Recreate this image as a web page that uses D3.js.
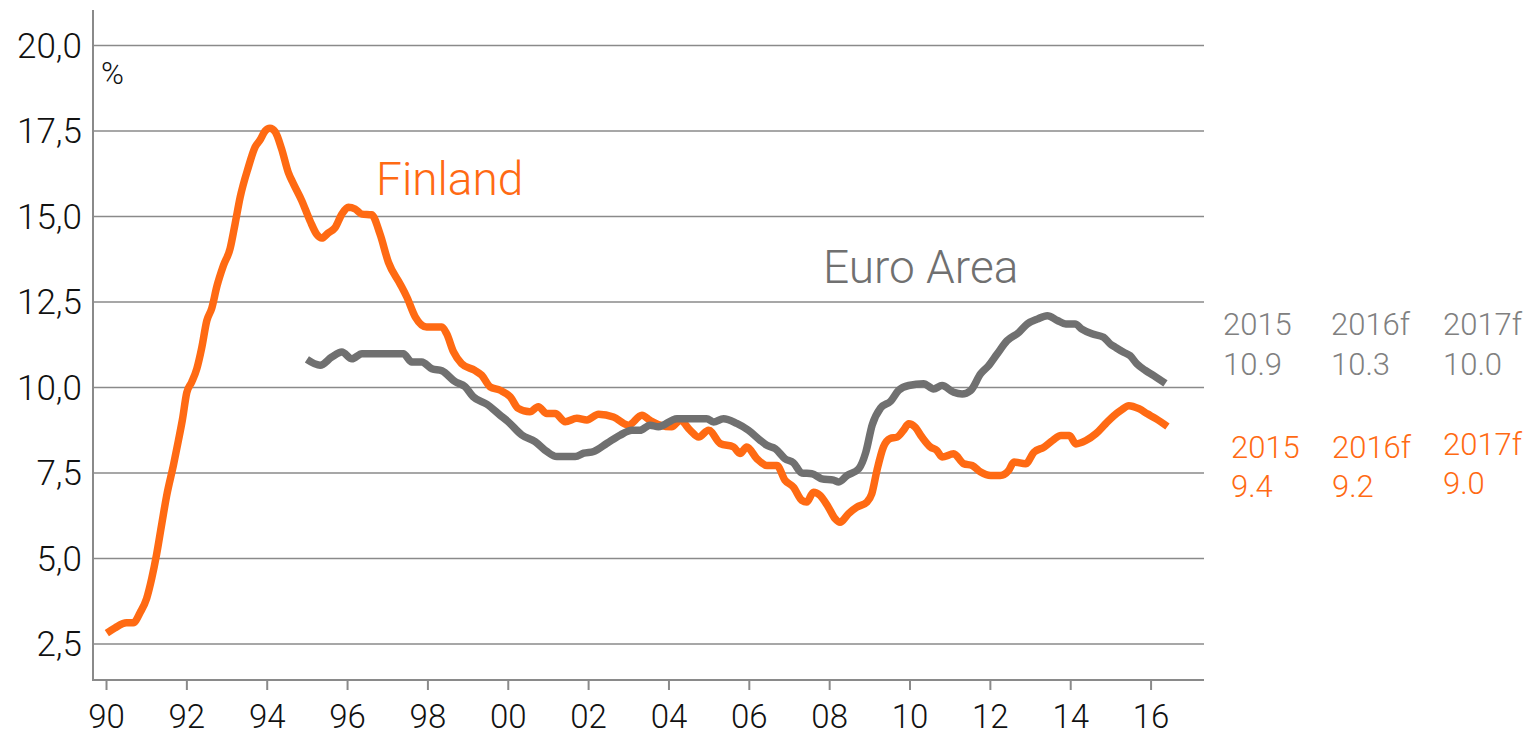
<!DOCTYPE html>
<html>
<head>
<meta charset="utf-8">
<script src="https://cdn.jsdelivr.net/npm/d3@7.9.0/dist/d3.min.js"></script>
<style>
  html, body { margin: 0; padding: 0; background: #fff; }
  svg text { font-family: Roboto, "Liberation Sans", sans-serif; font-weight: 300; }
</style>
</head>
<body>
<div id="chart"></div>
<script>
// unemployment rate, %, trend
const finlandYears = [1990.02,1990.22,1990.51,1990.68,1990.85,1991.01,1991.14,1991.26,1991.39,1991.51,1991.68,1991.80,1991.90,1992.01,1992.13,1992.26,1992.38,1992.51,1992.63,1992.76,1992.92,1993.09,1993.21,1993.34,1993.54,1993.71,1993.83,1993.96,1994.08,1994.21,1994.37,1994.54,1994.66,1994.87,1995.08,1995.25,1995.37,1995.53,1995.70,1995.87,1996.03,1996.20,1996.37,1996.61,1996.82,1997.03,1997.32,1997.49,1997.70,1997.98,1998.36,1998.48,1998.65,1998.85,1999.18,1999.35,1999.56,1999.81,2000.06,2000.26,2000.55,2000.76,2000.97,2001.18,2001.43,2001.72,2001.97,2002.26,2002.63,2003.00,2003.34,2003.54,2003.79,2004.08,2004.29,2004.54,2004.75,2005.00,2005.29,2005.62,2005.78,2005.95,2006.20,2006.45,2006.70,2006.90,2007.11,2007.32,2007.44,2007.61,2007.77,2007.98,2008.15,2008.27,2008.48,2008.69,2008.94,2009.06,2009.19,2009.35,2009.52,2009.69,2009.85,2009.98,2010.14,2010.31,2010.52,2010.68,2010.81,2011.10,2011.35,2011.56,2011.77,2012.02,2012.26,2012.47,2012.60,2012.89,2013.10,2013.35,2013.56,2013.77,2013.98,2014.14,2014.39,2014.64,2014.88,2015.09,2015.26,2015.46,2015.71,2015.92,2016.13,2016.42];
const finlandValues = [2.82,2.97,3.12,3.12,3.42,3.83,4.43,5.13,6.03,6.84,7.74,8.44,9.05,9.85,10.15,10.55,11.15,11.96,12.31,12.96,13.56,14.07,14.77,15.57,16.43,17.03,17.23,17.50,17.58,17.48,16.98,16.28,15.97,15.47,14.87,14.47,14.37,14.52,14.67,15.07,15.27,15.22,15.07,15.05,14.49,13.66,13.03,12.64,12.06,11.77,11.77,11.57,11.04,10.70,10.50,10.36,10.02,9.92,9.73,9.39,9.29,9.44,9.24,9.24,9.00,9.10,9.05,9.22,9.14,8.90,9.19,9.04,8.90,8.85,9.04,8.75,8.55,8.75,8.36,8.26,8.07,8.26,7.92,7.72,7.72,7.29,7.09,6.70,6.65,6.94,6.85,6.50,6.16,6.06,6.31,6.50,6.65,6.89,7.58,8.26,8.51,8.55,8.75,8.94,8.84,8.55,8.26,8.16,7.97,8.06,7.77,7.72,7.53,7.43,7.43,7.58,7.82,7.77,8.11,8.26,8.45,8.60,8.60,8.35,8.45,8.65,8.94,9.18,9.33,9.47,9.38,9.23,9.09,8.86];

const euroYears = [1995.00,1995.33,1995.62,1995.87,1996.12,1996.37,1997.40,1997.61,1997.86,1998.11,1998.36,1998.69,1998.94,1999.14,1999.48,1999.81,2000.01,2000.35,2000.68,2000.97,2001.22,2001.68,2001.89,2002.14,2002.47,2002.80,2003.09,2003.29,2003.54,2003.75,2004.21,2004.95,2005.12,2005.37,2005.70,2005.99,2006.28,2006.45,2006.66,2006.90,2007.11,2007.32,2007.57,2007.82,2008.11,2008.24,2008.45,2008.74,2008.91,2009.07,2009.28,2009.53,2009.73,2009.98,2010.35,2010.60,2010.81,2011.10,2011.31,2011.52,2011.77,2011.97,2012.18,2012.43,2012.72,2012.93,2013.18,2013.43,2013.68,2013.89,2014.12,2014.29,2014.54,2014.83,2015.00,2015.12,2015.33,2015.49,2015.66,2015.87,2016.08,2016.37];
const euroValues = [10.82,10.65,10.89,11.04,10.84,10.99,10.99,10.75,10.75,10.55,10.49,10.17,10.02,9.73,9.51,9.19,9.00,8.61,8.42,8.13,7.98,7.98,8.08,8.13,8.37,8.61,8.75,8.75,8.90,8.85,9.09,9.09,8.99,9.09,8.95,8.75,8.46,8.31,8.21,7.92,7.80,7.50,7.48,7.33,7.29,7.24,7.43,7.63,8.10,8.90,9.40,9.60,9.92,10.06,10.11,9.96,10.06,9.86,9.81,9.91,10.40,10.64,10.98,11.37,11.61,11.86,12.00,12.10,11.96,11.86,11.86,11.71,11.57,11.47,11.27,11.18,11.03,10.93,10.69,10.50,10.35,10.12];

const yTicks = [2.5, 5, 7.5, 10, 12.5, 15, 17.5, 20];
const yTickLabels = ["2,5", "5,0", "7,5", "10,0", "12,5", "15,0", "17,5", "20,0"];
const xTicks = [1990, 1992, 1994, 1996, 1998, 2000, 2002, 2004, 2006, 2008, 2010, 2012, 2014, 2016];
const xTickLabels = ["90", "92", "94", "96", "98", "00", "02", "04", "06", "08", "10", "12", "14", "16"];

const forecastYears = ["2015", "2016f", "2017f"];
const euroForecast = ["10.9", "10.3", "10.0"];
const finlandForecast = ["9.4", "9.2", "9.0"];

const orange = "#ff6a13";
const grey = "#707070";
const textGrey = "#808080";
const gridColor = "#8a8a8a";

const width = 1538, height = 736;
const plot = { left: 93, right: 1204, top: 10, bottom: 680 };

const svg = d3.select("#chart").append("svg")
  .attr("width", width)
  .attr("height", height);

const x = d3.scaleLinear()
  .domain([1989.676, 2017.33])
  .range([plot.left, plot.right]);

const y = d3.scaleLinear()
  .domain([1.447, 21.04])
  .range([plot.bottom, plot.top]);

// horizontal grid
svg.append("g")
  .selectAll("line")
  .data(yTicks)
  .join("line")
  .attr("x1", plot.left).attr("x2", plot.right)
  .attr("y1", d => y(d)).attr("y2", d => y(d))
  .attr("stroke", gridColor)
  .attr("stroke-width", 1.5);

// y labels
svg.append("g")
  .selectAll("text")
  .data(yTicks)
  .join("text")
  .attr("x", 82)
  .attr("y", d => y(d))
  .attr("dy", "0.35em")
  .attr("text-anchor", "end")
  .attr("fill", "#111")
  .style("font-size", "35px")
  .text((d, i) => yTickLabels[i]);

// x axis
const xAxis = d3.axisBottom(x)
  .tickValues(xTicks)
  .tickSize(10)
  .tickPadding(14)
  .tickFormat((d, i) => xTickLabels[i]);

const xAxisG = svg.append("g")
  .attr("transform", `translate(0,${plot.bottom})`)
  .call(xAxis);
xAxisG.select(".domain").remove();
xAxisG.selectAll(".tick line").attr("stroke", gridColor).attr("stroke-width", 2);
xAxisG.selectAll(".tick text")
  .attr("y", 48)
  .attr("dy", null)
  .attr("fill", "#111")
  .style("font-size", "33px")
  .style("font-family", "Roboto, sans-serif")
  .style("font-weight", 300);

// axis lines
svg.append("line")
  .attr("x1", plot.left).attr("x2", plot.left)
  .attr("y1", plot.top).attr("y2", plot.bottom + 1)
  .attr("stroke", gridColor).attr("stroke-width", 2);
svg.append("line")
  .attr("x1", plot.left).attr("x2", plot.right)
  .attr("y1", plot.bottom).attr("y2", plot.bottom)
  .attr("stroke", gridColor).attr("stroke-width", 2);

svg.append("text")
  .attr("x", 101).attr("y", 84)
  .attr("fill", "#111")
  .style("font-size", "31px")
  .text("%");

const line = d3.line()
  .x(d => x(d[0]))
  .y(d => y(d[1]))
  .curve(d3.curveMonotoneX);

const finland = finlandYears.map((t, i) => [t, finlandValues[i]]);
const euro = euroYears.map((t, i) => [t, euroValues[i]]);

svg.append("path")
  .datum(finland)
  .attr("fill", "none")
  .attr("stroke", orange)
  .attr("stroke-width", 7.5)
  .attr("stroke-linejoin", "round")
  .attr("d", line);

svg.append("path")
  .datum(euro)
  .attr("fill", "none")
  .attr("stroke", grey)
  .attr("stroke-width", 7.5)
  .attr("stroke-linejoin", "round")
  .attr("d", line);

// series labels
svg.append("text")
  .attr("x", 376).attr("y", 195)
  .attr("fill", orange)
  .style("font-size", "46px")
  .text("Finland");

svg.append("text")
  .attr("x", 823).attr("y", 283)
  .attr("fill", grey)
  .style("font-size", "46px")
  .text("Euro Area");

// forecast notes on the right
const noteX = [1223, 1331, 1443];
const noteXOrange = [1231, 1332, 1443];
forecastYears.forEach((yr, i) => {
  svg.append("text")
    .attr("x", noteX[i]).attr("y", 335)
    .attr("fill", textGrey)
    .style("font-size", "31px")
    .text(yr);
  svg.append("text")
    .attr("x", noteX[i]).attr("y", 375)
    .attr("fill", textGrey)
    .style("font-size", "31px")
    .text(euroForecast[i]);
  const dy = i === 2 ? -3 : 0;
  svg.append("text")
    .attr("x", noteXOrange[i]).attr("y", 458 + dy)
    .attr("fill", orange)
    .style("font-size", "31px")
    .text(yr);
  svg.append("text")
    .attr("x", noteXOrange[i]).attr("y", 497 + dy)
    .attr("fill", orange)
    .style("font-size", "31px")
    .text(finlandForecast[i]);
});
</script>
</body>
</html>
